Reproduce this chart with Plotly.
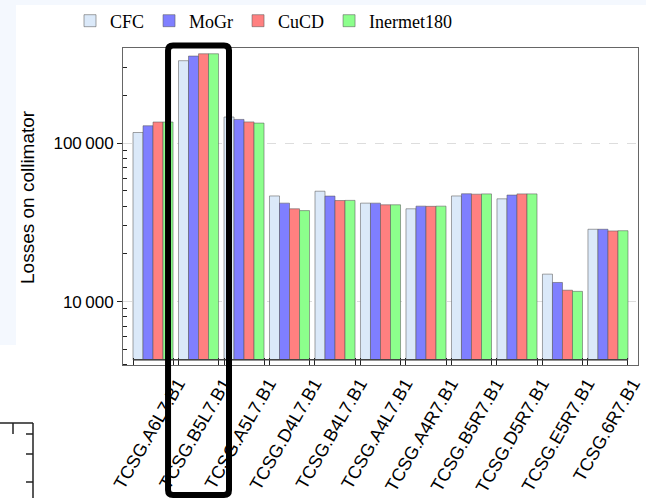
import plotly.graph_objects as go
import numpy as np

categories = ["TCSG.A6L7.B1", "TCSG.B5L7.B1", "TCSG.A5L7.B1", "TCSG.D4L7.B1",
              "TCSG.B4L7.B1", "TCSG.A4L7.B1", "TCSG.A4R7.B1", "TCSG.B5R7.B1",
              "TCSG.D5R7.B1", "TCSG.E5R7.B1", "TCSG.6R7.B1"]
series_names = ["CFC", "MoGr", "CuCD", "Inermet180"]
cfc =     [116600, 331000, 146000, 46400, 49700, 41800, 38500, 46400, 44500, 14900, 28600]
mogr =    [128600, 354000, 141000, 41800, 46300, 41800, 40000, 47900, 47000, 13200, 28600]
cucd =    [135800, 366000, 136000, 38500, 43400, 40800, 39900, 47600, 47800, 11800, 27900]
inermet = [135800, 366000, 133700, 37500, 43500, 40800, 40000, 47800, 47800, 11600, 28000]
series_values = [cfc, mogr, cucd, inermet]
colors = ["#dbe9f9", "#7f7fff", "#ff8080", "#8cff8c"]
baseline = 4290
ytick_vals = [10000, 100000]
ytick_text = ["10\u2009000", "100\u2009000"]
highlight_index = 1

x = np.arange(len(categories))
fig = go.Figure()
for name, vals, col in zip(series_names, series_values, colors):
    fig.add_trace(go.Bar(
        x=x, y=[v - baseline for v in vals], base=baseline, name=name,
        marker=dict(color=col, line=dict(color="rgba(90,90,90,0.55)", width=1)),
        hovertext=[f"{name}: {v}" for v in vals], hoverinfo="text"))

font_sans = "Liberation Sans, Arial, sans-serif"
font_serif = "Liberation Serif, Times New Roman, serif"

# geometry helpers (pixels -> paper)
L, R, T, B = 123, 8, 48, 133
W, H = 646, 498
pw, ph = W - L - R, H - T - B
def px(p): return (p - L) / pw
def py(p): return (H - B - p) / ph

shapes = []
bg = "#f4f8fe"
shapes.append(dict(type="rect", xref="paper", yref="paper", x0=px(0), x1=px(16), y0=py(345), y1=py(0),
                   fillcolor=bg, line=dict(width=0), layer="below"))
shapes.append(dict(type="rect", xref="paper", yref="paper", x0=px(0), x1=px(646), y0=py(5), y1=py(0),
                   fillcolor=bg, line=dict(width=0), layer="below"))
# baseline
shapes.append(dict(type="line", xref="x", yref="y", x0=-0.44, x1=len(categories) - 1 + 0.44,
                   y0=baseline, y1=baseline, line=dict(color="#444", width=1.5)))
# partial neighbouring frame bottom-left
lc = dict(color="#222", width=1.5)
shapes.append(dict(type="line", xref="paper", yref="paper", x0=px(0), x1=px(33), y0=py(423), y1=py(423), line=lc))
shapes.append(dict(type="line", xref="paper", yref="paper", x0=px(33), x1=px(33), y0=py(423), y1=py(498), line=lc))
shapes.append(dict(type="line", xref="paper", yref="paper", x0=px(13), x1=px(13), y0=py(423), y1=py(434), line=lc))
for yy in [434, 454, 482]:
    shapes.append(dict(type="line", xref="paper", yref="paper", x0=px(26), x1=px(33), y0=py(yy), y1=py(yy), line=lc))

# highlight rectangle (rounded)
xa, xb = highlight_index - 0.67, highlight_index + 0.67
ya, yb = py(495), py(45.5)
rx, ry = 5 / 45.5, 5 / ph
path = (f"M{xa+rx},{yb} L{xb-rx},{yb} Q{xb},{yb} {xb},{yb-ry} L{xb},{ya+ry} Q{xb},{ya} {xb-rx},{ya} "
        f"L{xa+rx},{ya} Q{xa},{ya} {xa},{ya+ry} L{xa},{yb-ry} Q{xa},{yb} {xa+rx},{yb} Z")
shapes.append(dict(type="path", xref="x", yref="paper", path=path, line=dict(color="black", width=6)))

edges = []
for i in x:
    edges += [i - 0.44, i + 0.44]

fig.update_layout(
    width=W, height=H, margin=dict(l=L, r=R, t=T, b=B, autoexpand=False),
    paper_bgcolor="white", plot_bgcolor="white",
    barmode="group", bargap=0.12, bargroupgap=0,
    shapes=shapes,
    showlegend=True,
    legend=dict(orientation="h", x=px(95 - 25), y=py(21), xanchor="left", yanchor="middle",
                font=dict(family=font_serif, size=18, color="black"), bgcolor="rgba(0,0,0,0)",
                traceorder="normal"),
    xaxis=dict(range=[-0.66, len(categories) - 1 + 0.66], tickmode="array", automargin=False,
               tickvals=[i + 0.55 for i in x], ticktext=categories, tickangle=-60, ticks="",
               tickfont=dict(family=font_sans, size=18, color="black"),
               showline=True, linecolor="#666", linewidth=1, mirror=True, showgrid=False, zeroline=False,
               minor=dict(tickmode="array", tickvals=edges, ticks="inside", ticklen=7, tickcolor="#222",
                          tickwidth=1, showgrid=False)),
    yaxis=dict(type="log", range=[np.log10(3980), np.log10(398000)], tickmode="array", automargin=False,
               tickvals=ytick_vals, ticktext=ytick_text, ticks="outside", ticklen=5, tickcolor="#222",
               tickfont=dict(family=font_sans, size=17, color="black"),
               showline=True, linecolor="#666", linewidth=1, mirror=True,
               showgrid=True, gridcolor="#dddddd", griddash="dash", gridwidth=1, zeroline=False,
               minor=dict(tickmode="array",
                          tickvals=[m * 10 ** k for k in (3, 4, 5) for m in range(2, 10)],
                          ticks="inside", ticklen=4, tickcolor="#222", showgrid=False)),
    annotations=[dict(text="Losses on collimator", xref="paper", yref="paper", x=px(27), y=py(197),
                      textangle=-90, showarrow=False, font=dict(family=font_sans, size=19, color="black"),
                      xanchor="center", yanchor="middle")],
)
fig.write_html("out.html")
